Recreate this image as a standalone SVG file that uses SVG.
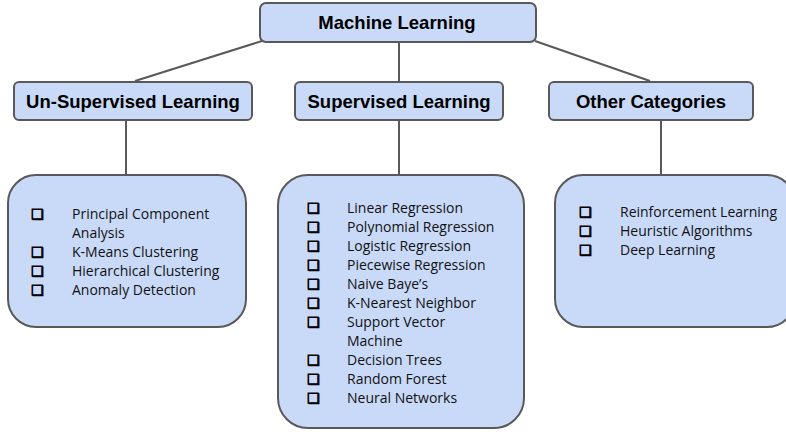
<svg xmlns="http://www.w3.org/2000/svg" width="786" height="432" viewBox="0 0 786 432">
<style>
.box{fill:#c9daf8;stroke:#595959;stroke-width:2}
.conn{stroke:#595959;stroke-width:2;fill:none}
.h{font-family:"Liberation Sans",Arial,sans-serif;font-weight:bold;font-size:18.5px;fill:#000;text-anchor:middle}
.t{font-family:"Open Sans","Liberation Sans",sans-serif;font-size:14px;fill:#111}
.b{font-family:"DejaVu Sans",sans-serif;font-weight:bold;font-size:14px;fill:#000;stroke:#000;stroke-width:0.9}
</style>
<rect width="786" height="432" fill="#fff"/>
<g id="connectors">
<line class="conn" x1="262" y1="41" x2="135" y2="81"/>
<line class="conn" x1="399" y1="43" x2="399" y2="81"/>
<line class="conn" x1="535" y1="41" x2="650" y2="81"/>
<line class="conn" x1="126" y1="120" x2="126" y2="175"/>
<line class="conn" x1="399" y1="120" x2="399" y2="175"/>
<line class="conn" x1="661" y1="120" x2="661" y2="175"/>
</g>
<g id="machine-learning">
<rect class="box" x="260" y="3" width="276" height="39" rx="6"/>
<text class="h" x="397" y="29">Machine Learning</text>
</g>
<g id="unsupervised">
<rect class="box" x="14" y="82" width="238" height="38" rx="5"/>
<text class="h" x="133" y="107.5">Un-Supervised Learning</text>
</g>
<g id="supervised">
<rect class="box" x="295" y="82" width="208" height="38" rx="5"/>
<text class="h" x="399" y="107.5">Supervised Learning</text>
</g>
<g id="other">
<rect class="box" x="549" y="82" width="204" height="38" rx="5"/>
<text class="h" x="651" y="107.5">Other Categories</text>
</g>
<g id="unsupervised-list">
<rect class="box" x="8" y="175" width="238" height="152" rx="28"/>
<text class="b" x="31" y="219">❑</text><text class="t" x="72" y="219">Principal Component</text>
<text class="t" x="72" y="238">Analysis</text>
<text class="b" x="31" y="257">❑</text><text class="t" x="72" y="257">K-Means Clustering</text>
<text class="b" x="31" y="276">❑</text><text class="t" x="72" y="276">Hierarchical Clustering</text>
<text class="b" x="31" y="295">❑</text><text class="t" x="72" y="295">Anomaly Detection</text>
</g>
<g id="supervised-list">
<rect class="box" x="278" y="175" width="246" height="253" rx="30"/>
<text class="b" x="307" y="213">❑</text><text class="t" x="347" y="213">Linear Regression</text>
<text class="b" x="307" y="232">❑</text><text class="t" x="347" y="232">Polynomial Regression</text>
<text class="b" x="307" y="251">❑</text><text class="t" x="347" y="251">Logistic Regression</text>
<text class="b" x="307" y="270">❑</text><text class="t" x="347" y="270">Piecewise Regression</text>
<text class="b" x="307" y="289">❑</text><text class="t" x="347" y="289">Naive Baye’s</text>
<text class="b" x="307" y="308">❑</text><text class="t" x="347" y="308">K-Nearest Neighbor</text>
<text class="b" x="307" y="327">❑</text><text class="t" x="347" y="327">Support Vector</text>
<text class="t" x="347" y="346">Machine</text>
<text class="b" x="307" y="365">❑</text><text class="t" x="347" y="365">Decision Trees</text>
<text class="b" x="307" y="384">❑</text><text class="t" x="347" y="384">Random Forest</text>
<text class="b" x="307" y="403">❑</text><text class="t" x="347" y="403">Neural Networks</text>
</g>
<g id="other-list">
<rect class="box" x="555" y="175" width="240" height="152" rx="28"/>
<text class="b" x="579" y="217">❑</text><text class="t" x="620" y="217">Reinforcement Learning</text>
<text class="b" x="579" y="236">❑</text><text class="t" x="620" y="236">Heuristic Algorithms</text>
<text class="b" x="579" y="255">❑</text><text class="t" x="620" y="255">Deep Learning</text>
</g>
</svg>
